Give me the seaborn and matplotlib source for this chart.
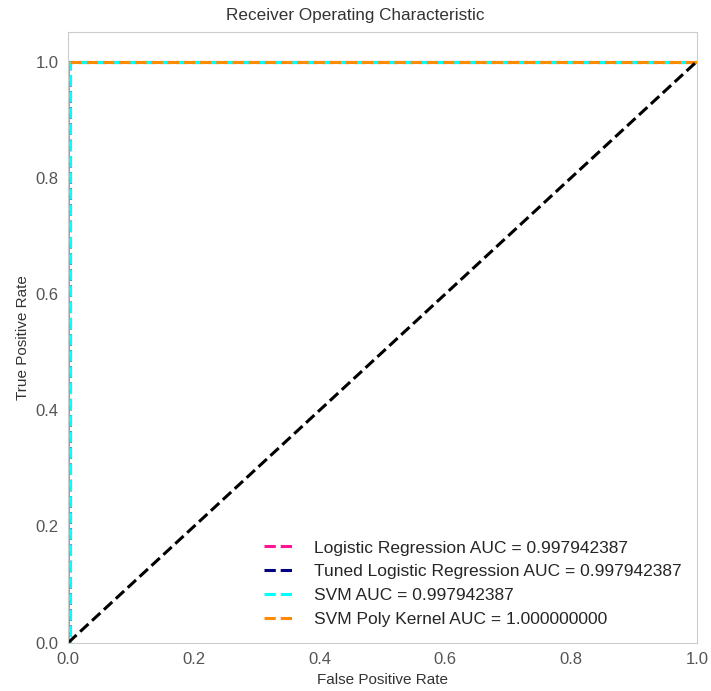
import numpy as np
import pandas as pd
import matplotlib
matplotlib.use("Agg")
import matplotlib.pyplot as plt
import seaborn as sns

# ROC curve points per model
models = ["Logistic Regression", "Tuned Logistic Regression", "SVM", "SVM Poly Kernel"]
fpr_lr = [0.0, 1 / 486, 1 / 486, 1.0]
tpr_lr = [0.0, 0.0, 1.0, 1.0]
fpr_tuned = [0.0, 1 / 486, 1 / 486, 1.0]
tpr_tuned = [0.0, 0.0, 1.0, 1.0]
fpr_svm = [0.0, 1 / 486, 1 / 486, 1.0]
tpr_svm = [0.0, 0.0, 1.0, 1.0]
fpr_poly = [0.0, 0.0, 1.0]
tpr_poly = [0.0, 1.0, 1.0]
colors = ["deeppink", "navy", "aqua", "darkorange"]
# dash phase per curve so overlapping dashed lines interleave
dash_styles = [(2.5, (3.7, 1.6)), (2.5, (3.7, 1.6)), (2.5, (3.7, 1.6)), (0, (3.7, 1.6))]

sns.set_style("white")
plt.rcParams["font.family"] = ["Liberation Sans", "DejaVu Sans"]

fig, ax = plt.subplots(figsize=(7.11, 6.91), dpi=100)
fig.subplots_adjust(left=0.096, right=0.98, top=0.953, bottom=0.07)

curves = [(fpr_lr, tpr_lr), (fpr_tuned, tpr_tuned), (fpr_svm, tpr_svm), (fpr_poly, tpr_poly)]
for name, (fpr, tpr), c, ls in zip(models, curves, colors, dash_styles):
    auc = np.trapezoid(tpr, fpr)
    df = pd.DataFrame({"fpr": fpr, "tpr": tpr})
    sns.lineplot(data=df, x="fpr", y="tpr", ax=ax, color=c, lw=2.2, linestyle=ls,
                 sort=False, estimator=None,
                 label=f"{name} AUC = {auc:.9f}")

sns.lineplot(x=[0, 1], y=[0, 1], ax=ax, color="black", lw=2.2, linestyle="--")

ax.set_xlim(0.0, 1.0)
ax.set_ylim(0.0, 1.05)
fig.suptitle("Receiver Operating Characteristic", fontsize=12.3, color="#333333",
             x=0.5, y=0.978, va="center")
ax.set_xlabel("False Positive Rate", fontsize=11, color="#333333")
ax.set_ylabel("True Positive Rate", fontsize=11, color="#333333")
ax.tick_params(labelsize=12, colors="#555555")
for s in ax.spines.values():
    s.set_color("#cccccc")
leg = ax.legend(loc="lower right", frameon=False, fontsize=12.5, handlelength=1.85,
                handletextpad=1.0, labelspacing=0.5, borderaxespad=0.5)
for h in leg.get_lines():
    h.set_linestyle("--")

fig.savefig("out.png", dpi=100)
